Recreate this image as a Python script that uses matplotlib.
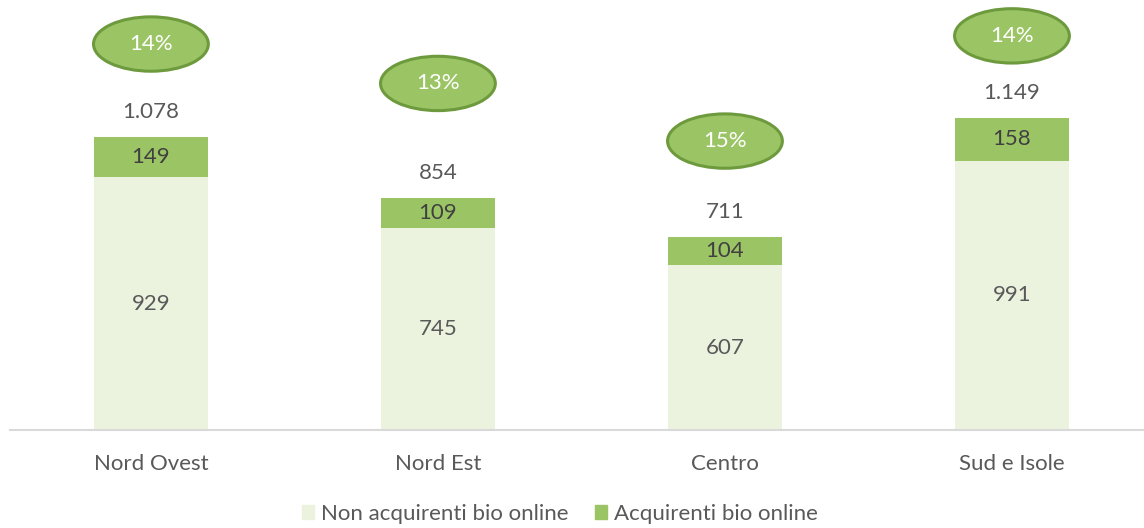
import matplotlib.pyplot as plt
from matplotlib.patches import Ellipse, Patch

regions = ["Nord Ovest", "Nord Est", "Centro", "Sud e Isole"]
non_buyers = [929, 745, 607, 991]
buyers = [149, 109, 104, 158]
totals = ["1.078", "854", "711", "1.149"]
shares = ["14%", "13%", "15%", "14%"]
# vertical placement of the percentage bubbles (data units)
bubble_y = [1420, 1275, 1063, 1450]

LIGHT = "#EBF3DF"
DARK = "#9BC565"
EDGE = "#6E9A3E"
TEXT = "#595959"

plt.rcParams["font.family"] = ["Lato", "DejaVu Sans"]

fig = plt.figure(figsize=(11.44, 5.28), dpi=100)
ax = fig.add_axes([10 / 1144, 98 / 528, 1134 / 1144, 430 / 528])

x = range(len(regions))
w = 0.397
ax.bar(x, non_buyers, width=w, color=LIGHT, label="Non acquirenti bio online")
ax.bar(x, buyers, width=w, bottom=non_buyers, color=DARK,
       label="Acquirenti bio online")

fs = 16
for i in x:
    tot = non_buyers[i] + buyers[i]
    ax.text(i, non_buyers[i] / 2, str(non_buyers[i]), ha="center", va="center",
            fontsize=fs, color=TEXT)
    ax.text(i, non_buyers[i] + buyers[i] / 2, str(buyers[i]), ha="center",
            va="center", fontsize=fs, color="#404040")
    ax.text(i, tot + 92, totals[i], ha="center", va="center",
            fontsize=fs, color=TEXT)
    ax.add_patch(Ellipse((i, bubble_y[i]), 0.40, 200, facecolor=DARK,
                         edgecolor=EDGE, linewidth=2.2, zorder=3))
    ax.text(i, bubble_y[i], shares[i], ha="center", va="center",
            fontsize=fs, color="white", zorder=4)

ax.set_xlim(-0.491, 3.46)
ax.set_ylim(0, 1582)
for s in ["top", "right", "left"]:
    ax.spines[s].set_visible(False)
ax.spines["bottom"].set_color("#D9D9D9")
ax.spines["bottom"].set_linewidth(1.5)
ax.set_yticks([])
ax.set_xticks(list(x))
ax.set_xticklabels(regions, fontsize=fs, color=TEXT)
ax.tick_params(axis="x", length=0, pad=17)

handles = [Patch(color=LIGHT), Patch(color=DARK)]
fig.legend(handles, ["Non acquirenti bio online", "Acquirenti bio online"],
           loc="center", bbox_to_anchor=(560 / 1144, 14 / 528), ncol=2,
           frameon=False, fontsize=fs, labelcolor=TEXT, handlelength=0.55,
           handleheight=0.55, handletextpad=0.3, columnspacing=1.2)

fig.savefig("out.png", dpi=100)
